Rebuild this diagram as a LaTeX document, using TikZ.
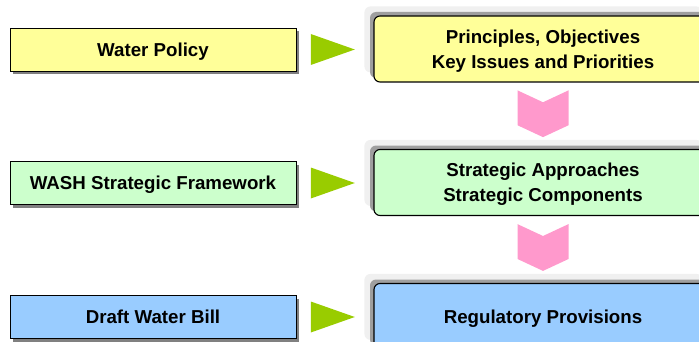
\documentclass[tikz,border=0pt]{standalone}
\usepackage{fontspec}
\setmainfont{Liberation Sans}
\usepackage{xcolor}
\usetikzlibrary{shapes.geometric,shapes.symbols,shadows,calc}

\definecolor{polyellow}{HTML}{FFFF99}
\definecolor{frmgreen}{HTML}{CCFFCC}
\definecolor{billblue}{HTML}{99CCFF}
\definecolor{feedgreen}{HTML}{99CC00}
\definecolor{flowpink}{HTML}{FF99CC}

\begin{document}
\begin{tikzpicture}[every node/.style={font=\fontsize{13.3}{17.8}\selectfont\bfseries}, src/.style={draw, line width=0.7pt, align=center, minimum width=7.15cm, minimum height=1.075cm, inner sep=0pt, text depth=0pt, drop shadow={shadow xshift=0.075cm, shadow yshift=-0.075cm, fill=gray, opacity=1}}, tgt/.style={draw, line width=0.8pt, rounded corners=0.15cm, align=center, minimum width=8.45cm, minimum height=1.65cm, inner sep=0pt, text depth=0pt, general shadow={fill=gray!12, shadow xshift=-0.24cm, shadow yshift=0.24cm}, general shadow={fill=gray!75, shadow xshift=-0.1cm, shadow yshift=0.1cm}}, feed/.style={isosceles triangle, isosceles triangle stretches, fill=feedgreen, minimum width=0.775cm, minimum height=1.1cm, inner sep=0pt, anchor=west}, flow/.style={signal, signal from=north, signal to=south, signal pointer angle=130, fill=flowpink, minimum width=1.275cm, minimum height=0.575cm, inner sep=0pt}]
\useasboundingbox (0,0) rectangle (17.475,-8.55);
\node[src, fill=polyellow] (policy) at (3.825,-1.2375) {Water Policy};
\node[src, fill=frmgreen] (wash) at (3.825,-4.575) {WASH Strategic Framework};
\node[src, fill=billblue] (bill) at (3.825,-7.925) {Draft Water Bill};
\node[tgt, fill=polyellow] (principles) at (13.575,-1.225) {Principles, Objectives\\Key Issues and Priorities};
\node[tgt, fill=frmgreen] (approaches) at (13.575,-4.5625) {Strategic Approaches\\Strategic Components};
\node[tgt, fill=billblue] (provisions) at (13.575,-7.9125) {Regulatory Provisions};
\node[feed] (feed1) at ([xshift=0.35cm]policy.east) {};
\node[feed] (feed2) at ([xshift=0.35cm]wash.east) {};
\node[feed] (feed3) at ([xshift=0.35cm]bill.east) {};
\node[flow] (flow1) at ($(principles.south)!0.5!(approaches.north)+(0,0.05)$) {};
\node[flow] (flow2) at ($(approaches.south)!0.5!(provisions.north)+(0,0.05)$) {};
\end{tikzpicture}
\end{document}
